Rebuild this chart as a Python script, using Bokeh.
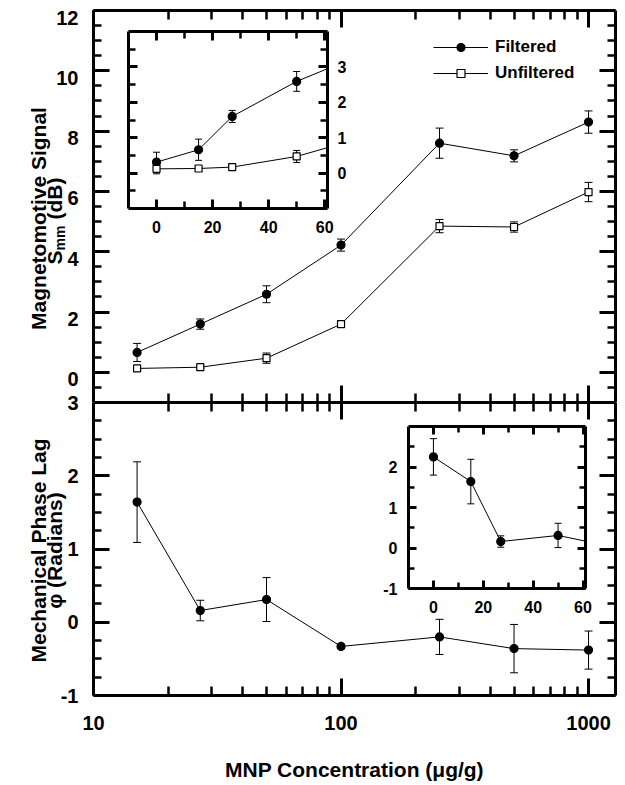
import math
from bokeh.plotting import figure
from bokeh.models import (Range1d, FixedTicker, LogAxis, LinearAxis, ColumnDataSource,
                          Whisker, TeeHead, Legend, LegendItem, Label, PrintfTickFormatter,
                          CustomJSTickFormatter)
from bokeh.layouts import column
from bokeh.embed import file_html
from bokeh.resources import INLINE

FONT = "Liberation Sans"

# ---------------- data ----------------
conc = [15, 27, 50, 100, 250, 500, 1000]            # MNP concentration (ug/g)
filtered = [0.66, 1.60, 2.59, 4.22, 7.60, 7.18, 8.30]
filtered_err = [0.30, 0.17, 0.28, 0.20, 0.50, 0.20, 0.37]
unfiltered = [0.13, 0.17, 0.47, 1.60, 4.85, 4.82, 5.98]
unfiltered_err = [0.03, 0.03, 0.17, 0.08, 0.22, 0.17, 0.32]
phase = [1.64, 0.16, 0.31, -0.33, -0.20, -0.36, -0.38]
phase_err = [0.55, 0.14, 0.30, 0.03, 0.24, 0.33, 0.26]

control_conc = [0]
control_filtered = [0.31]
control_filtered_err = [0.28]
control_unfiltered = [0.12]
control_unfiltered_err = [0.14]
control_phase = [2.25]
control_phase_err = [0.45]

x_major = [10, 100, 1000]
x_minor = [20, 30, 40, 50, 60, 70, 80, 90, 200, 300, 400, 500, 600, 700, 800, 900]
top_y_major = [0, 2, 4, 6, 8, 10, 12]
top_y_minor = [-0.5, 0.5, 1, 1.5, 2.5, 3, 3.5, 4.5, 5, 5.5, 6.5, 7, 7.5, 8.5, 9, 9.5, 10.5, 11, 11.5]
bot_y_major = [-1, 0, 1, 2, 3]
bot_y_minor = [-0.75, -0.5, -0.25, 0.25, 0.5, 0.75, 1.25, 1.5, 1.75, 2.25, 2.5, 2.75]
ins_x_major = [0, 20, 40, 60]
ins_x_minor = [10, 30, 50]
ins1_y_major = [0, 1, 2, 3]
ins1_y_minor = [-0.5, 0.5, 1.5, 2.5, 3.5]
ins2_y_major = [-1, 0, 1, 2]
ins2_y_minor = [-0.5, 0.5, 1.5, 2.5]

X_RANGE = (10, 1285)
TOP_Y = (-1, 12)
BOT_Y = (-1, 3)
INSET_X = (-10, 61)
INS1_Y = (-1, 4)
INS2_Y = (-1, 3)

TOP_FRAME_H = 392
LABEL_SHIFT_PX = 7


def blank_formatter():
    return CustomJSTickFormatter(code="return ''")


def add_axis(p, cls, side, major, minor, major_len, minor_len, label_px=None, standoff=0,
             range_name=None, line=True):
    kw = {}
    if range_name:
        kw["y_range_name"] = range_name
    ax = cls(ticker=FixedTicker(ticks=major, minor_ticks=minor), **kw)
    ax.axis_line_width = 3
    ax.axis_line_color = "black" if line else None
    ax.major_tick_in = major_len
    ax.major_tick_out = 0
    ax.minor_tick_in = minor_len
    ax.minor_tick_out = 0
    ax.major_tick_line_width = 3
    ax.minor_tick_line_width = 2.5
    ax.major_tick_line_color = "black" if major_len else None
    ax.minor_tick_line_color = "black" if minor_len else None
    if label_px:
        ax.formatter = PrintfTickFormatter(format="%d")
        ax.major_label_text_font = FONT
        ax.major_label_text_font_style = "bold"
        ax.major_label_text_font_size = f"{label_px}px"
        ax.major_label_text_color = "black"
        ax.major_label_standoff = standoff
    else:
        ax.formatter = blank_formatter()
        ax.major_label_text_font_size = "0px"
        ax.major_label_standoff = 0
    p.add_layout(ax, side)
    return ax


def err_source(xs, ys, es, xmax=None):
    idx = [i for i, x in enumerate(xs) if xmax is None or x <= xmax]
    return ColumnDataSource(dict(
        x=[xs[i] for i in idx],
        y=[ys[i] for i in idx],
        lo=[ys[i] - es[i] for i in idx],
        hi=[ys[i] + es[i] for i in idx],
    ))


def add_whiskers(p, src, head=8):
    w = Whisker(base="x", lower="lo", upper="hi", source=src, line_color="black", line_width=1,
                upper_head=TeeHead(size=head, line_width=1, line_color="black"),
                lower_head=TeeHead(size=head, line_width=1, line_color="black"))
    p.add_layout(w)


def add_series(p, xs, ys, es, marker, size, fill, xmax=None, head=8):
    full = ColumnDataSource(dict(x=xs, y=ys))
    lr = p.line("x", "y", source=full, line_color="black", line_width=1)
    src = err_source(xs, ys, es, xmax)
    add_whiskers(p, src, head)
    sr = p.scatter("x", "y", source=full, marker=marker, size=size, fill_color=fill,
                   line_color="black", line_width=1.2)
    return lr, sr


def vlabel(p, text, x, y, size, align="center"):
    p.add_layout(Label(x=x, y=y, x_units="screen", y_units="screen", text=text,
                       angle=math.pi / 2, text_align=align, text_baseline="middle",
                       text_font=FONT, text_font_style="bold",
                       text_font_size=f"{size}px", text_color="black"))


COMMON = dict(output_backend="svg", toolbar_location=None, frame_align=False,
              x_axis_location=None, y_axis_location=None, outline_line_color=None)

# ---------------- top panel ----------------
top = figure(width=623, height=10 + TOP_FRAME_H, x_axis_type="log", x_range=Range1d(*X_RANGE),
             y_range=Range1d(*TOP_Y),
             min_border_left=93, min_border_right=8, min_border_top=10, min_border_bottom=0,
             background_fill_color="white", **COMMON)
top.grid.visible = False
shift = LABEL_SHIFT_PX * (TOP_Y[1] - TOP_Y[0]) / TOP_FRAME_H
top.extra_y_ranges = {"lab": Range1d(TOP_Y[0] + shift, TOP_Y[1] + shift)}
add_axis(top, LogAxis, "below", x_major, x_minor, 17, 9)
add_axis(top, LogAxis, "above", x_major, x_minor, 17, 9)
add_axis(top, LinearAxis, "left", top_y_major, top_y_minor, 16, 8)
add_axis(top, LinearAxis, "left", top_y_major, [], 0, 0, label_px=20, standoff=15,
         range_name="lab", line=False)
add_axis(top, LinearAxis, "right", top_y_major, top_y_minor, 16, 8)

lf, sf = add_series(top, conc, filtered, filtered_err, "circle", 8, "black")
lu, su = add_series(top, conc, unfiltered, unfiltered_err, "square", 7, "white")

legend = Legend(items=[LegendItem(label="Filtered", renderers=[lf, sf]),
                       LegendItem(label="Unfiltered", renderers=[lu, su])],
                location=(340, 319), orientation="vertical",
                border_line_color=None, background_fill_alpha=0,
                padding=0, margin=0, spacing=6, glyph_width=55, glyph_height=20,
                label_height=20, label_standoff=7,
                label_text_font=FONT, label_text_font_style="bold",
                label_text_font_size="17px", label_text_color="black")
top.add_layout(legend)

# ---------------- bottom panel ----------------
bot = figure(width=623, height=12 + 293 + 88, x_axis_type="log", x_range=Range1d(*X_RANGE),
             y_range=Range1d(*BOT_Y),
             min_border_left=93, min_border_right=8, min_border_top=12, min_border_bottom=88,
             background_fill_color="white", border_fill_alpha=0, margin=(-12, 0, 0, 0),
             **COMMON)
bot.grid.visible = False
xb = add_axis(bot, LogAxis, "below", x_major, x_minor, 17, 9, label_px=20, standoff=20)
xb.axis_label = "MNP Concentration (\u03bcg/g)"
xb.axis_label_text_font = FONT
xb.axis_label_text_font_style = "bold"
xb.axis_label_text_font_size = "21px"
xb.axis_label_text_color = "black"
xb.axis_label_standoff = 25
add_axis(bot, LogAxis, "above", x_major, x_minor, 17, 9)
add_axis(bot, LinearAxis, "left", bot_y_major, bot_y_minor, 16, 8, label_px=20, standoff=15)
add_axis(bot, LinearAxis, "right", bot_y_major, bot_y_minor, 16, 8)

add_series(bot, conc, phase, phase_err, "circle", 8, "black")

# ---------------- insets ----------------
ins1 = figure(width=226, height=214, x_range=Range1d(*INSET_X), y_range=Range1d(*INS1_Y),
              min_border_left=3, min_border_right=24, min_border_top=3, min_border_bottom=34,
              background_fill_color="white", border_fill_alpha=0,
              margin=(28 - 783, 0, 0, 125), **COMMON)
ins1.grid.visible = False
add_axis(ins1, LinearAxis, "below", ins_x_major, ins_x_minor, 9, 7, label_px=16, standoff=12)
add_axis(ins1, LinearAxis, "above", ins_x_major, ins_x_minor, 9, 7)
add_axis(ins1, LinearAxis, "left", ins1_y_major, ins1_y_minor, 9, 7)
add_axis(ins1, LinearAxis, "right", ins1_y_major, ins1_y_minor, 9, 7, label_px=16, standoff=10)
add_series(ins1, control_conc + conc, control_filtered + filtered,
           control_filtered_err + filtered_err, "circle", 8, "black", xmax=INSET_X[1], head=7)
add_series(ins1, control_conc + conc, control_unfiltered + unfiltered,
           control_unfiltered_err + unfiltered_err, "square", 7, "white", xmax=INSET_X[1], head=7)

ins2 = figure(width=221, height=199, x_range=Range1d(*INSET_X), y_range=Range1d(*INS2_Y),
              min_border_left=32, min_border_right=12, min_border_top=3, min_border_bottom=34,
              background_fill_color="white", border_fill_alpha=0,
              margin=(423 - (28 + 214), 0, 0, 376), **COMMON)
ins2.grid.visible = False
add_axis(ins2, LinearAxis, "below", ins_x_major, ins_x_minor, 8, 6, label_px=16, standoff=12)
add_axis(ins2, LinearAxis, "above", ins_x_major, ins_x_minor, 8, 6)
add_axis(ins2, LinearAxis, "left", ins2_y_major, ins2_y_minor, 8, 6, label_px=16, standoff=11)
add_axis(ins2, LinearAxis, "right", ins2_y_major, ins2_y_minor, 8, 6)
add_series(ins2, control_conc + conc, control_phase + phase, control_phase_err + phase_err,
           "circle", 8, "black", xmax=INSET_X[1], head=7)

# ---------------- y-axis titles (transparent overlay over the left margin) ----------------
TH = 783
titles = figure(width=92, height=TH, x_range=Range1d(0, 1), y_range=Range1d(0, 1),
                min_border=0, background_fill_alpha=0, border_fill_alpha=0,
                margin=(-(423 + 199), 0, 0, 0), **COMMON)
titles.grid.visible = False
vlabel(titles, "Magnetomotive Signal", 37.5, TH - 218, 21)
vlabel(titles, "S", 53.5, TH - 264, 21, align="left")
vlabel(titles, "mm", 59.5, TH - 250, 14, align="left")
vlabel(titles, "(dB)", 53.5, TH - 219, 21, align="left")
vlabel(titles, "Mechanical Phase Lag", 37.5, TH - 550, 21)
vlabel(titles, "\u03c6 (Radians)", 53.5, TH - 550, 21)

layout = column(top, bot, ins1, ins2, titles, spacing=0)

with open("out.html", "w") as f:
    f.write(file_html(layout, INLINE))
